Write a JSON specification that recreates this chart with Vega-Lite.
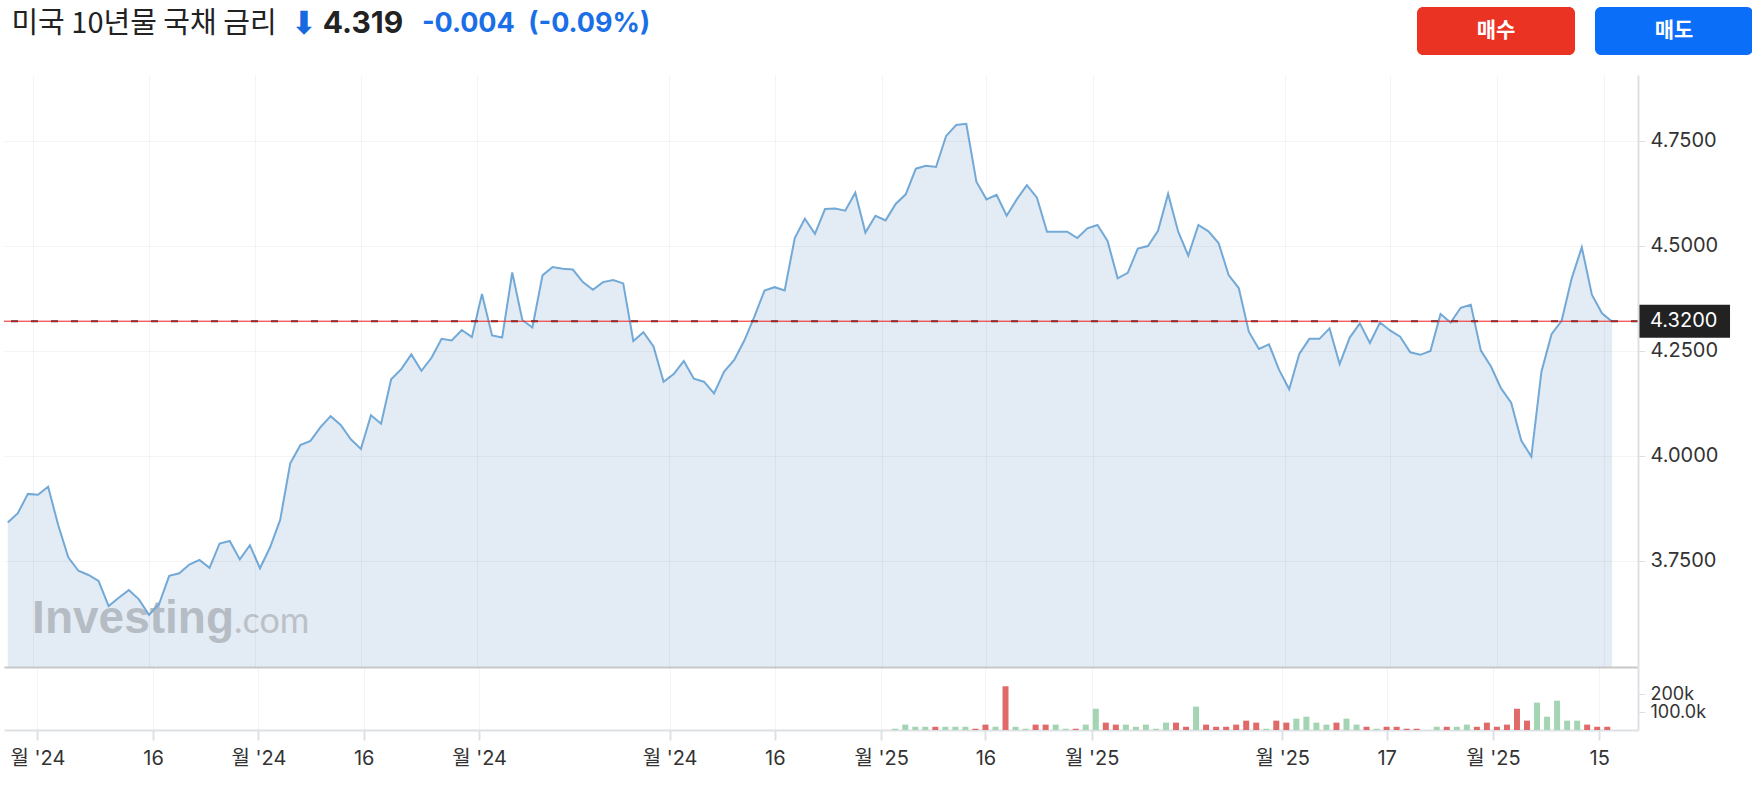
{
  "$schema": "https://vega.github.io/schema/vega-lite/v6.json",
  "background": "white",
  "padding": {"left": 3, "top": 7, "right": 0, "bottom": 0},
  "autosize": {"type": "pad"},
  "spacing": 20,
  "bounds": "full",
  "resolve": {"scale": {"color": "independent", "x": "independent", "y": "independent"}},
  "config": {
    "view": {"stroke": null},
    "axis": {"labelFont": "Inter, Noto Sans CJK KR", "labelFontSize": 20, "labelColor": "#333333", "title": null, "labelOverlap": false, "labelFlush": false}
  },
  "datasets": {
    "yield": [
      {"i":0,"y":3.841},{"i":1,"y":3.863},{"i":2,"y":3.909},{"i":3,"y":3.907},{"i":4,"y":3.926},{"i":5,"y":3.835},{"i":6,"y":3.758},{"i":7,"y":3.726},{"i":8,"y":3.716},{"i":9,"y":3.702},
      {"i":10,"y":3.642},{"i":11,"y":3.662},{"i":12,"y":3.680},{"i":13,"y":3.658},{"i":14,"y":3.621},{"i":15,"y":3.647},{"i":16,"y":3.714},{"i":17,"y":3.720},{"i":18,"y":3.741},{"i":19,"y":3.752},
      {"i":20,"y":3.733},{"i":21,"y":3.791},{"i":22,"y":3.797},{"i":23,"y":3.753},{"i":24,"y":3.787},{"i":25,"y":3.732},{"i":26,"y":3.782},{"i":27,"y":3.847},{"i":28,"y":3.982},{"i":29,"y":4.025},
      {"i":30,"y":4.035},{"i":31,"y":4.068},{"i":32,"y":4.094},{"i":33,"y":4.073},{"i":34,"y":4.039},{"i":35,"y":4.016},{"i":36,"y":4.096},{"i":37,"y":4.076},{"i":38,"y":4.182},{"i":39,"y":4.206},
      {"i":40,"y":4.241},{"i":41,"y":4.202},{"i":42,"y":4.233},{"i":43,"y":4.278},{"i":44,"y":4.274},{"i":45,"y":4.299},{"i":46,"y":4.282},{"i":47,"y":4.385},{"i":48,"y":4.286},{"i":49,"y":4.281},
      {"i":50,"y":4.436},{"i":51,"y":4.323},{"i":52,"y":4.305},{"i":53,"y":4.429},{"i":54,"y":4.449},{"i":55,"y":4.445},{"i":56,"y":4.443},{"i":57,"y":4.413},{"i":58,"y":4.395},{"i":59,"y":4.413},
      {"i":60,"y":4.418},{"i":61,"y":4.410},{"i":62,"y":4.273},{"i":63,"y":4.294},{"i":64,"y":4.260},{"i":65,"y":4.176},{"i":66,"y":4.194},{"i":67,"y":4.225},{"i":68,"y":4.183},{"i":69,"y":4.176},
      {"i":70,"y":4.148},{"i":71,"y":4.200},{"i":72,"y":4.228},{"i":73,"y":4.274},{"i":74,"y":4.331},{"i":75,"y":4.393},{"i":76,"y":4.401},{"i":77,"y":4.393},{"i":78,"y":4.518},{"i":79,"y":4.564},
      {"i":80,"y":4.528},{"i":81,"y":4.587},{"i":82,"y":4.588},{"i":83,"y":4.583},{"i":84,"y":4.626},{"i":85,"y":4.531},{"i":86,"y":4.571},{"i":87,"y":4.560},{"i":88,"y":4.599},{"i":89,"y":4.622},
      {"i":90,"y":4.683},{"i":91,"y":4.690},{"i":92,"y":4.687},{"i":93,"y":4.761},{"i":94,"y":4.787},{"i":95,"y":4.790},{"i":96,"y":4.652},{"i":97,"y":4.610},{"i":98,"y":4.621},{"i":99,"y":4.571},
      {"i":100,"y":4.610},{"i":101,"y":4.644},{"i":102,"y":4.614},{"i":103,"y":4.533},{"i":104,"y":4.533},{"i":105,"y":4.533},{"i":106,"y":4.518},{"i":107,"y":4.541},{"i":108,"y":4.549},{"i":109,"y":4.511},
      {"i":110,"y":4.422},{"i":111,"y":4.435},{"i":112,"y":4.493},{"i":113,"y":4.499},{"i":114,"y":4.535},{"i":115,"y":4.623},{"i":116,"y":4.533},{"i":117,"y":4.476},{"i":118,"y":4.549},{"i":119,"y":4.534},
      {"i":120,"y":4.506},{"i":121,"y":4.430},{"i":122,"y":4.399},{"i":123,"y":4.295},{"i":124,"y":4.254},{"i":125,"y":4.265},{"i":126,"y":4.204},{"i":127,"y":4.158},{"i":128,"y":4.242},{"i":129,"y":4.278},
      {"i":130,"y":4.278},{"i":131,"y":4.303},{"i":132,"y":4.218},{"i":133,"y":4.281},{"i":134,"y":4.315},{"i":135,"y":4.268},{"i":136,"y":4.317},{"i":137,"y":4.298},{"i":138,"y":4.283},{"i":139,"y":4.246},
      {"i":140,"y":4.240},{"i":141,"y":4.249},{"i":142,"y":4.337},{"i":143,"y":4.317},{"i":144,"y":4.352},{"i":145,"y":4.359},{"i":146,"y":4.250},{"i":147,"y":4.212},{"i":148,"y":4.160},{"i":149,"y":4.126},
      {"i":150,"y":4.036},{"i":151,"y":3.998},{"i":152,"y":4.200},{"i":153,"y":4.289},{"i":154,"y":4.321},{"i":155,"y":4.422},{"i":156,"y":4.496},{"i":157,"y":4.383},{"i":158,"y":4.339},{"i":159,"y":4.319}
    ],
    "volume": [
      {"i":88,"v":7000,"dir":"up"},{"i":89,"v":30000,"dir":"up"},{"i":90,"v":18000,"dir":"up"},{"i":91,"v":18000,"dir":"up"},{"i":92,"v":18000,"dir":"down"},
      {"i":93,"v":18000,"dir":"up"},{"i":94,"v":18000,"dir":"up"},{"i":95,"v":18000,"dir":"up"},{"i":96,"v":7000,"dir":"down"},{"i":97,"v":30000,"dir":"down"},
      {"i":98,"v":18000,"dir":"up"},{"i":99,"v":243000,"dir":"down"},{"i":100,"v":18000,"dir":"up"},{"i":101,"v":7000,"dir":"up"},{"i":102,"v":30000,"dir":"down"},
      {"i":103,"v":30000,"dir":"down"},{"i":104,"v":30000,"dir":"up"},{"i":105,"v":7000,"dir":"up"},{"i":106,"v":7000,"dir":"down"},{"i":107,"v":30000,"dir":"up"},
      {"i":108,"v":118000,"dir":"up"},{"i":109,"v":41000,"dir":"down"},{"i":110,"v":30000,"dir":"down"},{"i":111,"v":30000,"dir":"up"},{"i":112,"v":18000,"dir":"up"},
      {"i":113,"v":30000,"dir":"up"},{"i":114,"v":7000,"dir":"up"},{"i":115,"v":41000,"dir":"up"},{"i":116,"v":41000,"dir":"down"},{"i":117,"v":18000,"dir":"down"},
      {"i":118,"v":130000,"dir":"up"},{"i":119,"v":30000,"dir":"down"},{"i":120,"v":18000,"dir":"down"},{"i":121,"v":18000,"dir":"down"},{"i":122,"v":30000,"dir":"down"},
      {"i":123,"v":52000,"dir":"down"},{"i":124,"v":41000,"dir":"down"},{"i":125,"v":7000,"dir":"up"},{"i":126,"v":52000,"dir":"down"},{"i":127,"v":41000,"dir":"down"},
      {"i":128,"v":63000,"dir":"up"},{"i":129,"v":74000,"dir":"up"},{"i":130,"v":41000,"dir":"up"},{"i":131,"v":30000,"dir":"up"},{"i":132,"v":41000,"dir":"down"},
      {"i":133,"v":63000,"dir":"up"},{"i":134,"v":30000,"dir":"up"},{"i":135,"v":18000,"dir":"down"},{"i":136,"v":7000,"dir":"up"},{"i":137,"v":18000,"dir":"down"},
      {"i":138,"v":18000,"dir":"down"},{"i":139,"v":7000,"dir":"down"},{"i":140,"v":7000,"dir":"down"},{"i":142,"v":18000,"dir":"up"},{"i":143,"v":18000,"dir":"down"},
      {"i":144,"v":18000,"dir":"up"},{"i":145,"v":30000,"dir":"up"},{"i":146,"v":18000,"dir":"down"},{"i":147,"v":41000,"dir":"down"},{"i":148,"v":18000,"dir":"down"},
      {"i":149,"v":30000,"dir":"down"},{"i":150,"v":118000,"dir":"down"},{"i":151,"v":52000,"dir":"down"},{"i":152,"v":152000,"dir":"up"},{"i":153,"v":74000,"dir":"up"},
      {"i":154,"v":163000,"dir":"up"},{"i":155,"v":52000,"dir":"up"},{"i":156,"v":52000,"dir":"up"},{"i":157,"v":30000,"dir":"down"},{"i":158,"v":18000,"dir":"down"},
      {"i":159,"v":18000,"dir":"down"}
    ],
    "last": [{"price": 4.32}]
  },
  "vconcat": [
    {
      "hconcat": [
        {
          "width": 280, "height": 34,
          "data": {"values": [{"t": "미국 10년물 국채 금리"}]},
          "mark": {"type": "text", "font": "Noto Sans CJK KR", "fontSize": 29, "color": "#222222", "align": "center", "baseline": "middle"},
          "encoding": {"text": {"field": "t"}}
        },
        {
          "width": 40, "height": 34,
          "data": {"values": [{"t": "⬇"}]},
          "mark": {"type": "text", "font": "DejaVu Sans", "fontSize": 32, "color": "#1769e0", "align": "center", "baseline": "middle"},
          "encoding": {"text": {"field": "t"}}
        },
        {
          "width": 78, "height": 34,
          "data": {"values": [{"t": "4.319"}]},
          "mark": {"type": "text", "font": "Inter", "fontSize": 30, "fontWeight": "bold", "color": "#222222", "align": "center", "baseline": "middle"},
          "encoding": {"text": {"field": "t"}}
        },
        {
          "width": 268, "height": 34,
          "data": {"values": [{"t": "-0.004\u2002(-0.09%)"}]},
          "mark": {"type": "text", "font": "Inter", "fontSize": 27, "fontWeight": "bold", "color": "#1a6fe6", "align": "center", "baseline": "middle"},
          "encoding": {"text": {"field": "t"}}
        },
        {
          "width": 747, "height": 34,
          "data": {"values": [{"t": ""}]},
          "mark": {"type": "text"},
          "encoding": {"text": {"field": "t"}}
        },
        {
          "width": 336, "height": 48,
          "data": {"values": [{"label": "매수"}, {"label": "매도"}]},
          "encoding": {
            "x": {"field": "label", "type": "nominal", "sort": null, "axis": null,
                  "scale": {"domain": ["매수", "매도"], "paddingInner": 0.1124, "paddingOuter": 0}}
          },
          "layer": [
            {
              "mark": {"type": "bar", "cornerRadius": 6},
              "encoding": {"color": {"field": "label", "type": "nominal", "legend": null,
                                     "scale": {"domain": ["매수", "매도"], "range": ["#ea3323", "#0a6ef9"]}}}
            },
            {
              "mark": {"type": "text", "font": "Noto Sans CJK KR", "fontSize": 21, "fontWeight": "bold", "color": "white", "baseline": "middle"},
              "encoding": {"text": {"field": "label"}}
            }
          ]
        }
      ],
      "spacing": 0,
      "bounds": "flush",
      "resolve": {"scale": {"color": "independent"}}
    },
    {
      "vconcat": [
        {
          "width": 1634, "height": 592,
          "layer": [
            {
              "data": {"name": "yield"},
              "mark": {"type": "area", "color": "#e3ecf5"},
              "encoding": {
                "x": {"field": "i", "type": "quantitative",
                      "scale": {"domain": [-0.37, 161.57], "nice": false, "zero": false},
                      "axis": {"orient": "bottom", "values": [2.47, 14.0, 24.5, 35.0, 46.5, 65.5, 76.0, 86.6, 97.0, 107.6, 126.6, 137.0, 147.6, 158.2],
                               "labels": false, "ticks": false, "grid": true, "gridColor": "#000000", "gridOpacity": 0.045,
                               "domain": true, "domainColor": "#c8c8c8", "domainWidth": 2, "zindex": 1}},
                "y": {"field": "y", "type": "quantitative",
                      "scale": {"domain": [3.497, 4.906], "nice": false, "zero": false},
                      "axis": {"orient": "right", "values": [3.75, 4.0, 4.25, 4.5, 4.75], "format": ".4f",
                               "grid": true, "gridColor": "#000000", "gridOpacity": 0.045,
                               "domainColor": "#dde1e6", "domainWidth": 2, "tickColor": "#dde1e6", "tickSize": 7,
                               "labelPadding": 5, "labelFont": "Inter", "zindex": 1}},
                "y2": {"datum": 3.497}
              }
            },
            {
              "data": {"values": [{"w": "Investing"}]},
              "mark": {"type": "text", "font": "Liberation Sans", "fontWeight": "bold", "fontSize": 46, "color": "#b6bcc3", "align": "right", "baseline": "alphabetic"},
              "encoding": {
                "x": {"datum": 22.43, "type": "quantitative"},
                "y": {"datum": 3.578, "type": "quantitative"},
                "text": {"field": "w"}
              }
            },
            {
              "data": {"values": [{"w": ".com"}]},
              "mark": {"type": "text", "font": "Lato", "fontSize": 36, "color": "#bcc1c7", "align": "left", "baseline": "alphabetic"},
              "encoding": {
                "x": {"datum": 22.43, "type": "quantitative"},
                "y": {"datum": 3.578, "type": "quantitative"},
                "text": {"field": "w"}
              }
            },
            {
              "data": {"name": "yield"},
              "mark": {"type": "line", "color": "#72a9d7", "strokeWidth": 2},
              "encoding": {
                "x": {"field": "i", "type": "quantitative"},
                "y": {"field": "y", "type": "quantitative"}
              }
            },
            {
              "data": {"name": "last"},
              "mark": {"type": "rule", "color": "#333333", "strokeWidth": 2, "strokeDash": [7, 13]},
              "encoding": {"y": {"field": "price", "type": "quantitative"}}
            },
            {
              "data": {"name": "last"},
              "mark": {"type": "rule", "color": "#ee1c1c", "strokeWidth": 1},
              "encoding": {"y": {"field": "price", "type": "quantitative"}}
            },
            {
              "data": {"name": "last"},
              "mark": {"type": "rect", "color": "#222222"},
              "encoding": {
                "x": {"datum": 161.57, "type": "quantitative"},
                "x2": {"datum": 170.69},
                "y": {"datum": 4.2807, "type": "quantitative"},
                "y2": {"datum": 4.3593}
              }
            },
            {
              "data": {"name": "last"},
              "mark": {"type": "text", "font": "Inter", "fontSize": 20, "color": "white", "align": "left", "baseline": "middle"},
              "encoding": {
                "x": {"datum": 162.77, "type": "quantitative"},
                "y": {"field": "price", "type": "quantitative"},
                "text": {"field": "price", "type": "quantitative", "format": ".4f"}
              }
            }
          ]
        },
        {
          "width": 1634, "height": 63,
          "data": {"name": "volume"},
          "mark": {"type": "bar", "width": 6, "orient": "vertical"},
          "encoding": {
            "x": {"field": "i", "type": "quantitative",
                  "scale": {"domain": [-0.37, 161.57], "nice": false, "zero": false},
                  "axis": {"orient": "bottom", "values": [2.47, 14.0, 24.5, 35.0, 46.5, 65.5, 76.0, 86.6, 97.0, 107.6, 126.6, 137.0, 147.6, 158.2],
                           "labelExpr": "(datum.value < 10 || (datum.value > 20 && datum.value < 30) || (datum.value > 40 && datum.value < 70)) ? \"월 '24\" : datum.value > 157 ? '15' : (datum.value > 135 && datum.value < 140) ? '17' : ((datum.value > 80 && datum.value < 90) || (datum.value > 100 && datum.value < 130) || (datum.value > 145 && datum.value < 150)) ? \"월 '25\" : '16'",
                           "grid": true, "gridColor": "#000000", "gridOpacity": 0.045,
                           "domainColor": "#dde1e6", "domainWidth": 2, "tickColor": "#dde1e6", "tickSize": 10, "tickWidth": 2,
                           "labelPadding": 8}},
            "y": {"field": "v", "type": "quantitative",
                  "scale": {"domain": [0, 350000], "nice": false},
                  "axis": {"orient": "right", "values": [100000, 200000],
                           "labelExpr": "datum.value == 100000 ? '100.0k' : '200k'",
                           "grid": false, "domainColor": "#dde1e6", "domainWidth": 2, "tickColor": "#dde1e6", "tickSize": 7,
                           "labelPadding": 5, "labelFont": "Inter", "labelFontSize": 18}},
            "color": {"field": "dir", "type": "nominal", "legend": null,
                      "scale": {"domain": ["up", "down"], "range": ["#a3d5b3", "#e06a6a"]}}
          }
        }
      ],
      "spacing": 0,
      "bounds": "flush",
      "resolve": {"scale": {"color": "independent"}}
    }
  ]
}
